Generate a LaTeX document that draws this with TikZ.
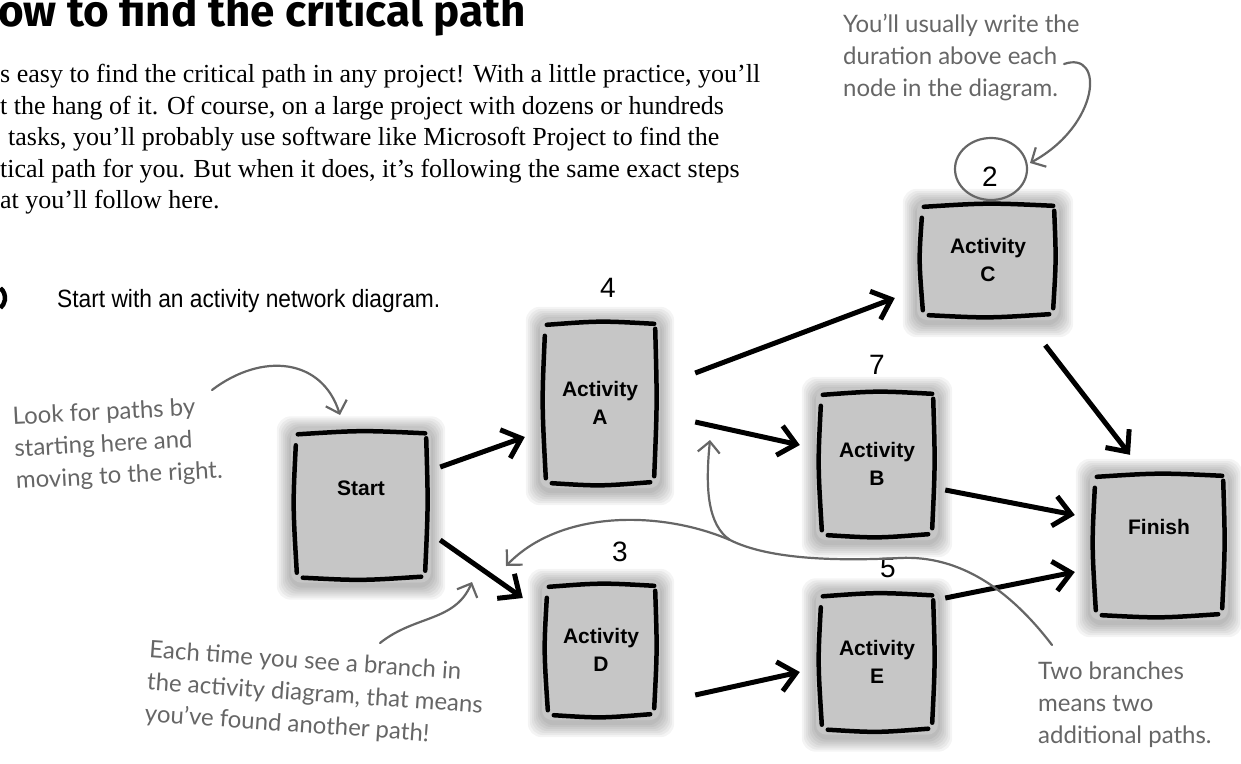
\documentclass[tikz,border=0pt]{standalone}
\usepackage{fontspec}
\setmainfont{Liberation Serif}
\newfontfamily\titlefont{Fira Sans}
\newfontfamily\narrowsans[FakeStretch=0.91]{Liberation Sans}
\newfontfamily\boxfont{Liberation Sans}
\newfontfamily\handfont{Lato}
\usetikzlibrary{arrows.meta,calc}
\pgfdeclarelayer{bg}
\pgfsetlayers{bg,main}
\definecolor{boxgray}{HTML}{C6C6C6}
\definecolor{handgray}{HTML}{666666}
\tikzset{
  actbox/.style={fill=boxgray, rounded corners=10pt, inner sep=0pt, align=center,
     font=\boxfont\bfseries\fontsize{21}{28}\selectfont},
  dur/.style={font=\boxfont\fontsize{28}{30}\selectfont, inner sep=0pt},
  flow/.style={line width=5pt, -{Straight Barb[length=17pt,width=30pt]}},
  rim/.style={line width=4.5pt, line cap=round},
  hand/.style={font=\handfont\fontsize{24}{32}\selectfont, text=handgray, align=left, inner sep=0pt},
  handline/.style={draw=handgray, line width=2.2pt, line cap=round},
  handarrow/.style={handline, -{Straight Barb[length=11pt,width=22pt]}},
}
\begin{document}
\begin{tikzpicture}[x=1pt,y=-1pt]
\useasboundingbox (0,0) rectangle (1241,763);
\clip (0,0) rectangle (1241,763);

% title and intro
\node[anchor=base west, inner sep=0pt, font=\titlefont\bfseries\fontsize{44}{46}\selectfont] (title) at (-2,26) {ow to find the critical path};
\node[anchor=north west, inner sep=0pt, align=left, font=\fontsize{26}{31.5}\selectfont] (intro) at (0,64)
 {s easy to find the critical path in any project! With a little practice, you’ll\\
  t the hang of it. Of course, on a large project with dozens or hundreds\\
  \hspace*{8pt}tasks, you’ll probably use software like Microsoft Project to find the\\
  tical path for you. But when it does, it’s following the same exact steps\\
  at you’ll follow here.};

% step
\draw[line width=4.5pt] (-8,298) ++(-50:13) arc[start angle=-50, end angle=50, radius=13];
\node[anchor=base west, inner sep=0pt, font=\narrowsans\fontsize{25}{30}\selectfont] (step) at (57,307) {Start with an activity network diagram.};

% boxes
\node[actbox, minimum width=140pt, minimum height=155pt] (start) at (361,505) {\raisebox{34pt}{Start}};
\node[actbox, minimum width=120pt, minimum height=170pt] (a) at (600,403) {Activity\\A};
\node[actbox, minimum width=122pt, minimum height=152pt] (b) at (877,464) {Activity\\B};
\node[actbox, minimum width=142pt, minimum height=120pt] (c) at (988,260) {Activity\\C};
\node[actbox, minimum width=118pt, minimum height=140pt] (d) at (601,650) {Activity\\D};
\node[actbox, minimum width=122pt, minimum height=145pt] (e) at (877,662) {Activity\\E};
\node[actbox, minimum width=138pt, minimum height=150pt] (fin) at (1159,545) {\raisebox{36pt}{Finish}};

% durations
\node[dur] (d4) at (608,288) {4};
\node[dur] (d7) at (877,365) {7};
\node[dur] (d2) at (990,177) {2};
\node[dur] (d3) at (620,552) {3};
\node[dur] (d5) at (888,568) {5};

% soft shadows
\begin{pgfonlayer}{bg}
\foreach \n in {start,a,b,c,d,e,fin}{
  \foreach \r in {14,12,10,8,6,4,2}{
    \fill[black,opacity=0.045,rounded corners=14pt] ($(\n.north west)+(-\r,-\r+3)$) rectangle ($(\n.south east)+(\r,\r+3)$);
  }
}
\end{pgfonlayer}

% rims
\foreach \n in {start,a,b,c,d,e,fin}{
 \draw[rim] ($(\n.north west)+(7,7)$) .. controls ($(\n.north)+(0,3)$) .. ($(\n.north east)+(-6,6)$);
 \draw[rim] ($(\n.north west)+(5,18)$) .. controls ($(\n.west)+(2,0)$) .. ($(\n.south west)+(6,-10)$);
 \draw[rim] ($(\n.north east)+(-5,11)$) .. controls ($(\n.east)+(-3,0)$) .. ($(\n.south east)+(-6,-12)$);
 \draw[rim] ($(\n.south west)+(12,-5)$) .. controls ($(\n.south)+(0,-2)$) .. ($(\n.south east)+(-10,-6)$);
}

% flow arrows
\draw[flow] ($(start.east)+(9,-38)$) -- ($(a.west)+(-15,34)$);
\draw[flow] ($(start.east)+(9,35)$) -- ($(d.west)+(-19,-52)$);
\draw[flow] ($(a.east)+(35,-30)$) -- ($(c.west)+(-22,38)$);
\draw[flow] ($(a.east)+(35,19)$) -- ($(b.west)+(-16,-19)$);
\draw[flow] ($(b.east)+(7,26)$) -- ($(fin.west)+(-15,-30)$);
\draw[flow] ($(c.south east)+(-14,25)$) -- ($(fin.north)+(-29,-15)$);
\draw[flow] ($(d.east)+(35,45)$) -- ($(e.west)+(-16,10)$);
\draw[flow] ($(e.east)+(7,-64)$) -- ($(fin.west)+(-15,27)$);

% annotations
\node[hand, anchor=north west] (n1) at (843,14) {You’ll usually write the\\duration above each\\node in the diagram.};
\coordinate (n1s) at (1064,64);
\coordinate (n1t) at (1030,163);
\draw[handarrow] (n1s) .. controls (1105,50) and (1100,125) .. (n1t);
\draw[handline] ($(d2)+(1,-8)$) ellipse [x radius=36, y radius=31];

\node[hand, anchor=north west, rotate=3] (n2) at (12,407) {Look for paths by\\starting here and\\moving to the right.};
\coordinate (n2s) at (212,390);
\coordinate (n2t) at (340,415);
\draw[handarrow] (n2s) .. controls (262,352) and (322,358) .. (n2t);

\node[hand, anchor=north west, rotate=-4] (n3) at (150,640) {Each time you see a branch in\\the activity diagram, that means\\you’ve found another path!};
\coordinate (n3s) at (380,643);
\coordinate (n3t) at (472,582);
\draw[handarrow] (n3s) .. controls (415,615) and (455,622) .. (n3t);

\node[hand, anchor=north west] (n4) at (1038,662) {Two branches\\means two\\additional paths.};
\coordinate (n4s) at (1052,645);
\coordinate (n4j) at (730,540);
\coordinate (n4t1) at (710,440);
\coordinate (n4t2) at (506,566);
\draw[handarrow] (n4s) .. controls (1010,590) and (960,555) .. (900,558) .. controls (840,561) and (770,560) .. (n4j) .. controls (708,525) and (705,490) .. (n4t1);
\draw[handarrow] (n4j) .. controls (660,510) and (560,510) .. (n4t2);
\end{tikzpicture}
\end{document}
